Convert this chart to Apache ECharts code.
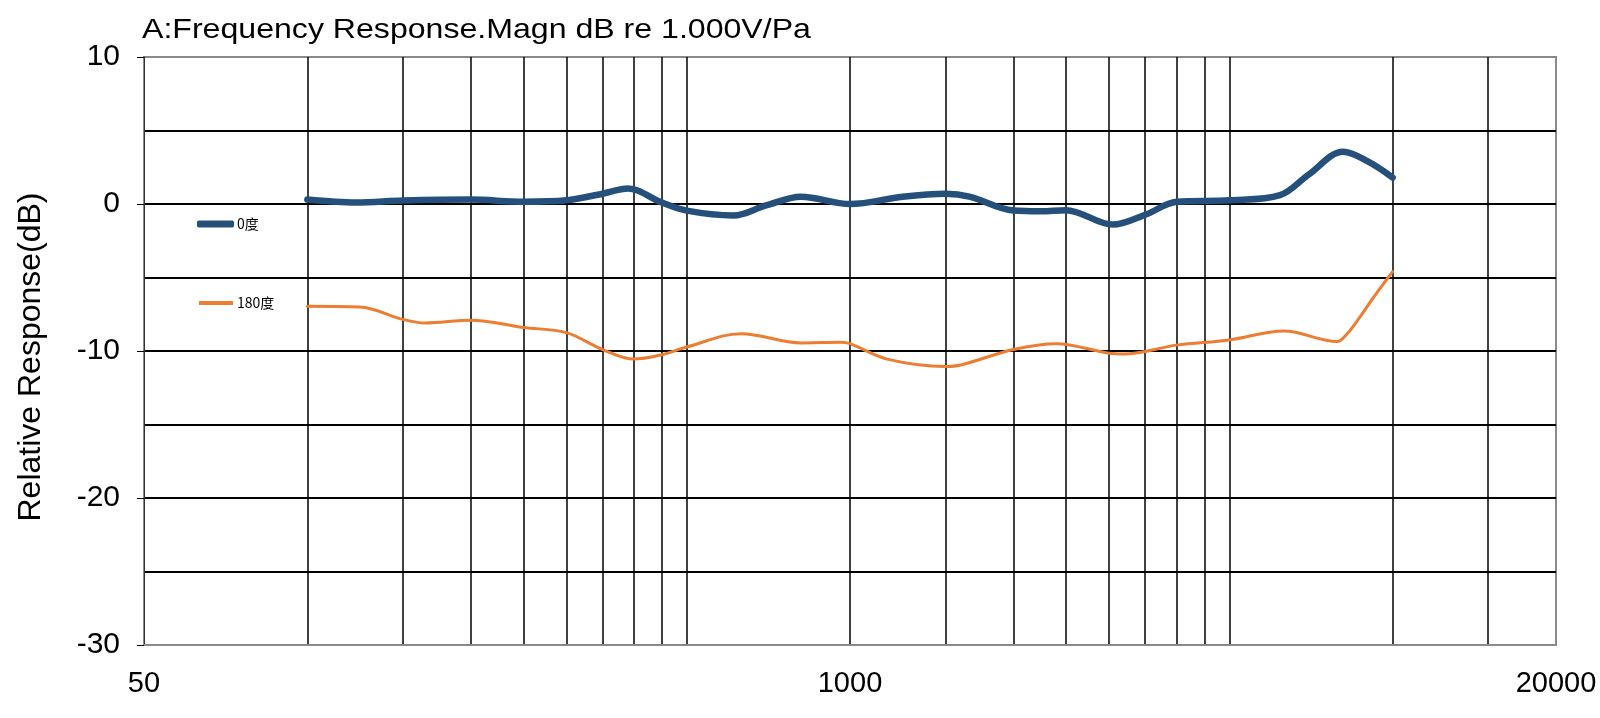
<!DOCTYPE html>
<html>
<head>
<meta charset="utf-8">
<script src="https://cdn.jsdelivr.net/npm/echarts@6/dist/echarts.min.js"></script>
<style>html,body{margin:0;padding:0;background:#fff;}#c{width:1600px;height:718px;}</style>
</head>
<body>
<div id="c"></div>
<script>
// ---- data ----
const titleText = 'A:Frequency Response.Magn dB re 1.000V/Pa';
const yName = 'Relative Response(dB)';
const xLabelValues = [50, 1000, 20000];
const yLabelValues = [-30, -20, -10, 0, 10];
const gridFreqs = [100, 150, 200, 250, 300, 350, 400, 450, 500, 1000, 1500, 2000, 2500, 3000, 3500, 4000, 4500, 5000, 10000, 15000];

const name0 = '0度';
const freq0 = [100, 123, 150, 200, 250, 300, 350, 390, 450, 500, 610, 700, 812, 1000, 1250, 1500, 1660, 2000, 2250, 2500, 3050, 3500, 4000, 5000, 6200, 7000, 8100, 9000, 10000];
const db0   = [0.3, 0.1, 0.23, 0.3, 0.15, 0.25, 0.7, 1.05, 0.1, -0.45, -0.78, -0.1, 0.5, 0.0, 0.5, 0.7, 0.5, -0.45, -0.5, -0.42, -1.4, -0.73, 0.15, 0.25, 0.6, 2.0, 3.55, 2.9, 1.8];

const name180 = '180度';
const freq180 = [100, 125, 150, 165, 200, 250, 300, 350, 400, 450, 500, 630, 812, 960, 1000, 1170, 1500, 1600, 2000, 2400, 3000, 3200, 4000, 5000, 6300, 7900, 8230, 8700, 9200, 10000];
const db180   = [-6.95, -7.0, -7.85, -8.1, -7.9, -8.4, -8.75, -9.9, -10.55, -10.25, -9.73, -8.82, -9.45, -9.4, -9.5, -10.55, -11.05, -10.95, -9.9, -9.5, -10.15, -10.2, -9.6, -9.25, -8.64, -9.36, -8.86, -7.7, -6.4, -4.6];

const pairs = (xs, ys) => xs.map((x, i) => [x, ys[i]]);

const chart = echarts.init(document.getElementById('c'), null, {renderer: 'canvas'});
const font = 'Liberation Sans, Arial, sans-serif';
chart.setOption({
  animation: false,
  backgroundColor: '#fff',
  graphic: [{
    type: 'text', x: 142, y: 16, scaleX: 1.146, z: 10,
    style: {text: titleText, fontFamily: font, fontSize: 28, fill: '#000', align: 'left', verticalAlign: 'top'}
  }, {
    type: 'text', x: 31, y: 357, rotation: Math.PI / 2, z: 10,
    style: {text: yName, fontFamily: font, fontSize: 32, fill: '#000', align: 'center', verticalAlign: 'middle'}
  }],
  legend: [{
    data: [{name: name0, icon: 'roundRect'}],
    left: 192, top: 212, itemWidth: 37, itemHeight: 7, itemGap: 2,
    textStyle: {fontFamily: 'Noto Sans CJK SC', fontSize: 14, color: '#000', padding: [0, 0, 0, -2]}
  }, {
    data: [{name: name180, icon: 'rect'}],
    left: 194, top: 291, itemWidth: 34, itemHeight: 4, itemGap: 2,
    textStyle: {fontFamily: 'Noto Sans CJK SC', fontSize: 14, color: '#000', padding: [0, 0, 0, -1]}
  }],
  grid: {left: 144, right: 44, top: 57, bottom: 73, show: true, borderColor: '#8a8a8a', borderWidth: 2, containLabel: false},
  xAxis: {
    type: 'log', logBase: 10, min: 50, max: 20000,
    axisLine: {show: true, onZero: false, lineStyle: {color: '#8a8a8a', width: 2}},
    axisTick: {show: false, customValues: gridFreqs},
    axisLabel: {customValues: xLabelValues, fontFamily: font, fontSize: 29, color: '#000', margin: 24,
      formatter: v => String(Math.round(v))},
    splitLine: {show: true, showMinLine: true, showMaxLine: true, lineStyle: {color: '#000', width: 1.5}},
    minorSplitLine: {show: false}
  },
  yAxis: [{
    type: 'value', min: -30, max: 10, interval: 5,
    axisLine: {show: true, onZero: false, lineStyle: {color: '#333', width: 1}},
    axisTick: {show: false},
    axisLabel: {show: false},
    splitLine: {show: true, showMinLine: false, showMaxLine: false, lineStyle: {color: '#000', width: 2}}
  }, {
    type: 'value', min: -30, max: 10, interval: 10, position: 'left',
    axisLine: {show: false, onZero: false},
    axisTick: {show: true, length: 7, lineStyle: {color: '#000', width: 1}},
    axisLabel: {fontFamily: font, fontSize: 30, color: '#000', margin: 24},
    splitLine: {show: false}
  }],
  series: [{
    name: name0, type: 'line', data: pairs(freq0, db0), yAxisIndex: 0,
    smooth: 0.35, symbol: 'none', z: 5,
    lineStyle: {color: '#25507c', width: 6.5, cap: 'round', join: 'round'},
    itemStyle: {color: '#25507c'}
  }, {
    name: name180, type: 'line', data: pairs(freq180, db180), yAxisIndex: 0,
    smooth: 0.35, symbol: 'none', z: 4,
    lineStyle: {color: '#ed7d31', width: 3, cap: 'round', join: 'round'},
    itemStyle: {color: '#ed7d31'}
  }]
});
</script>
</body>
</html>
